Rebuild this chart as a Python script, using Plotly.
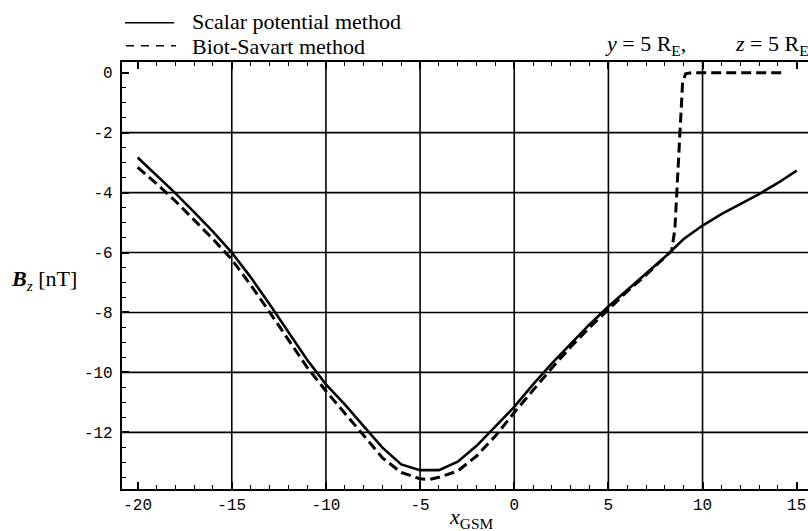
import plotly.graph_objects as go

# ---- data ----
x_scalar = [-20, -19, -18, -17, -16, -15, -14, -13, -12, -11, -10, -9, -8, -7, -6,
            -5, -4, -3.5, -3, -2, -1, 0, 1, 2, 3, 4, 5, 6, 7, 8, 9, 10, 11, 12,
            13, 14, 15]
bz_scalar = [-2.83, -3.42, -4.02, -4.65, -5.3, -6.0, -6.82, -7.72, -8.66, -9.58,
             -10.4, -11.07, -11.79, -12.51, -13.07, -13.26, -13.26, -13.12,
             -12.98, -12.45, -11.8, -11.15, -10.4, -9.7, -9.05, -8.4, -7.8,
             -7.25, -6.7, -6.15, -5.55, -5.1, -4.72, -4.38, -4.05, -3.68, -3.27]

x_biot = [-20, -19, -18, -17, -16, -15, -14, -13, -12, -11, -10, -9, -8, -7, -6,
          -5, -4.5, -4, -3, -2, -1, 0, 1, 2, 3, 4, 5, 6, 7, 8, 8.36, 8.53, 8.79,
          8.94, 9.1, 9.4, 10, 11, 12, 13, 14, 14.37]
bz_biot = [-3.16, -3.7, -4.28, -4.92, -5.55, -6.23, -7.08, -7.98, -8.9, -9.83,
           -10.62, -11.35, -12.1, -12.85, -13.34, -13.55, -13.57, -13.5, -13.29,
           -12.79, -12.12, -11.34, -10.6, -9.85, -9.15, -8.5, -7.9, -7.3, -6.75,
           -6.15, -5.94, -5.22, -2.0, -0.33, -0.04, 0, 0, 0, 0, 0, 0, 0]

x_ticks = [-20, -15, -10, -5, 0, 5, 10, 15]
x_ticklabels = ["-20", "-15", "-10", "-5", "0", "5", "10", "15"]
y_ticks = [0, -2, -4, -6, -8, -10, -12]
y_ticklabels = ["0", "-2", "-4", "-6", "-8", "-10", "-12"]
x_grid = [-15, -10, -5, 0, 5, 10]
y_grid = [-2, -4, -6, -8, -10, -12]

legend_labels = ["Scalar potential method", "Biot-Savart method"]

# ---- layout geometry ----
W, H = 808, 531
L, R, T, B = 122, 0, 62, 42
PW, PH = W - L - R, H - T - B


def px(xp):
    return (xp - L) / PW


def py(yp):
    return (H - B - yp) / PH


SERIF = "Liberation Serif"
MONO = "Liberation Mono"

fig = go.Figure()
fig.add_trace(go.Scatter(x=x_scalar, y=bz_scalar, mode="lines",
                         line=dict(color="black", width=2.6),
                         name=legend_labels[0], showlegend=False))
fig.add_trace(go.Scatter(x=x_biot, y=bz_biot, mode="lines",
                         line=dict(color="black", width=3, dash="10px,5px"),
                         name=legend_labels[1], showlegend=False))
# dummy trace so the top axis is drawn
fig.add_trace(go.Scatter(x=[], y=[], xaxis="x2", yaxis="y", showlegend=False))

shapes = []
for gx in x_grid:
    shapes.append(dict(type="line", xref="x", yref="paper", x0=gx, x1=gx, y0=0, y1=1,
                       line=dict(color="black", width=1.6), layer="below"))
for gy in y_grid:
    shapes.append(dict(type="line", xref="paper", yref="y", x0=0, x1=1, y0=gy, y1=gy,
                       line=dict(color="black", width=1.6), layer="below"))

# legend samples
shapes.append(dict(type="line", xref="paper", yref="paper", x0=px(125), x1=px(174),
                   y0=py(22.7), y1=py(22.7), line=dict(color="black", width=1.6)))
shapes.append(dict(type="line", xref="paper", yref="paper", x0=px(126), x1=px(176),
                   y0=py(45.7), y1=py(45.7),
                   line=dict(color="black", width=1.6, dash="8px,7px")))

annotations = [
    dict(text=legend_labels[0], x=px(190), y=py(21.2), xref="paper", yref="paper",
         xanchor="left", yanchor="middle", showarrow=False,
         font=dict(family=SERIF, size=22, color="black")),
    dict(text=legend_labels[1], x=px(190), y=py(46.3), xref="paper", yref="paper",
         xanchor="left", yanchor="middle", showarrow=False,
         font=dict(family=SERIF, size=22, color="black")),
    dict(text="<i>y</i> = 5 R<sub>E</sub>,", x=px(603), y=py(45), xref="paper",
         yref="paper", xanchor="left", yanchor="middle", showarrow=False,
         font=dict(family=SERIF, size=22, color="black")),
    dict(text="<i>z</i> = 5 R<sub>E</sub>", x=px(733), y=py(45), xref="paper",
         yref="paper", xanchor="left", yanchor="middle", showarrow=False,
         font=dict(family=SERIF, size=22, color="black")),
    dict(text="<i><b>B</b><sub>z</sub></i> [nT]", x=px(44), y=py(280), xref="paper",
         yref="paper", xanchor="center", yanchor="middle", showarrow=False,
         font=dict(family=SERIF, size=22, color="black")),
    dict(text="<i>x</i><sub>GSM</sub>", x=px(471), y=py(518), xref="paper",
         yref="paper", xanchor="center", yanchor="middle", showarrow=False,
         font=dict(family=SERIF, size=22, color="black")),
]

x_range = [-20.83, 15.6]
y_range = [-13.89, 0.357]

common_x = dict(range=x_range, tickmode="array", tickvals=x_ticks,
                ticks="inside", ticklen=7, tickwidth=1.5, tickcolor="black",
                showgrid=False, zeroline=False, showline=True, linecolor="black",
                linewidth=2.2,
                minor=dict(dtick=1, ticks="inside", ticklen=4, tickwidth=1.3,
                           tickcolor="black", showgrid=False))

fig.update_layout(
    width=W, height=H,
    margin=dict(l=L, r=R, t=T, b=B, pad=0),
    paper_bgcolor="white", plot_bgcolor="white",
    showlegend=False,
    xaxis=dict(**common_x, ticktext=x_ticklabels, side="bottom",
               tickfont=dict(family=MONO, size=16, color="black")),
    xaxis2=dict(**common_x, overlaying="x", side="top", anchor="y",
                showticklabels=False, matches="x"),
    yaxis=dict(range=y_range, tickmode="array", tickvals=y_ticks,
               ticktext=y_ticklabels, ticks="inside", ticklen=7, tickwidth=1.5,
               tickcolor="black", showgrid=False, zeroline=False, showline=True,
               linecolor="black", linewidth=2.2, ticklabelstandoff=4,
               tickfont=dict(family=MONO, size=16, color="black"),
               minor=dict(dtick=0.5, ticks="inside", ticklen=4, tickwidth=1.3,
                          tickcolor="black", showgrid=False)),
    shapes=shapes,
    annotations=annotations,
)

fig.write_html("out.html")
